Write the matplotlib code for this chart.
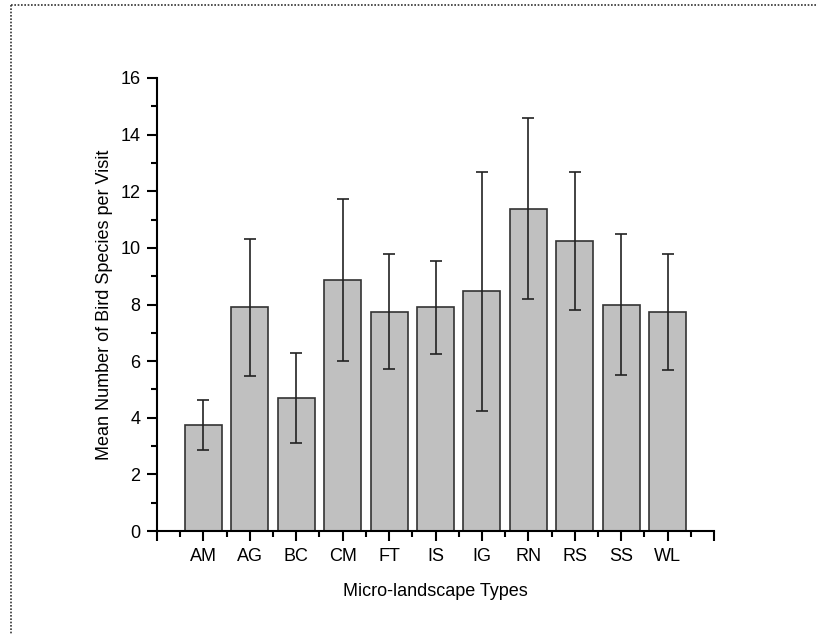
import matplotlib
matplotlib.use('Agg')
import matplotlib.pyplot as plt
from matplotlib.lines import Line2D
from matplotlib.ticker import MultipleLocator

plt.rcParams['font.family'] = ['Liberation Sans', 'DejaVu Sans']

# Data
types = ['AM', 'AG', 'BC', 'CM', 'FT', 'IS', 'IG', 'RN', 'RS', 'SS', 'WL']
means = [3.75, 7.90, 4.70, 8.88, 7.75, 7.90, 8.46, 11.39, 10.25, 8.00, 7.74]
errors = [0.88, 2.42, 1.60, 2.86, 2.04, 1.65, 4.23, 3.19, 2.43, 2.50, 2.05]

W, H = 817, 634
fig = plt.figure(figsize=(W / 100, H / 100), dpi=100)
ax = fig.add_axes([157 / W, 1 - 531 / H, (714 - 157) / W, (531 - 78) / H])

xpos = list(range(1, len(types) + 1))
ax.bar(xpos, means, width=0.8, color='#c0c0c0', edgecolor='#333333', linewidth=1.2, zorder=2)
ax.errorbar(xpos, means, yerr=errors, fmt='none', ecolor='#222222', elinewidth=1.2,
            capsize=4.5, capthick=1.2, zorder=3)

ax.set_xlim(0, 12)
ax.set_ylim(0, 16)
ax.set_xticks(range(0, 13))
ax.set_xticklabels([''] + types + [''])
ax.xaxis.set_minor_locator(MultipleLocator(0.5))
ax.yaxis.set_major_locator(MultipleLocator(2))
ax.yaxis.set_minor_locator(MultipleLocator(1))

for side in ['top', 'right']:
    ax.spines[side].set_visible(False)
for side in ['left', 'bottom']:
    ax.spines[side].set_linewidth(1.5)

ax.tick_params(which='major', direction='out', length=7, width=1.5, labelsize=13, pad=5)
ax.tick_params(which='minor', direction='out', length=4, width=1.5)

ax.set_xlabel('Micro-landscape Types', fontsize=13, labelpad=13)
ax.set_ylabel('Mean Number of Bird Species per Visit', fontsize=13, labelpad=5)

# dotted frame around the page (right and bottom fall outside)
x0, y0 = 10.5 / W, 1 - 4.5 / H
fig.add_artist(Line2D([x0, 1.01], [y0, y0], transform=fig.transFigure,
                      color='#333333', linestyle=(0, (1, 1)), linewidth=1.2))
fig.add_artist(Line2D([x0, x0], [y0, -0.01], transform=fig.transFigure,
                      color='#333333', linestyle=(0, (1, 1)), linewidth=1.2))

fig.savefig('out.png', dpi=100)
